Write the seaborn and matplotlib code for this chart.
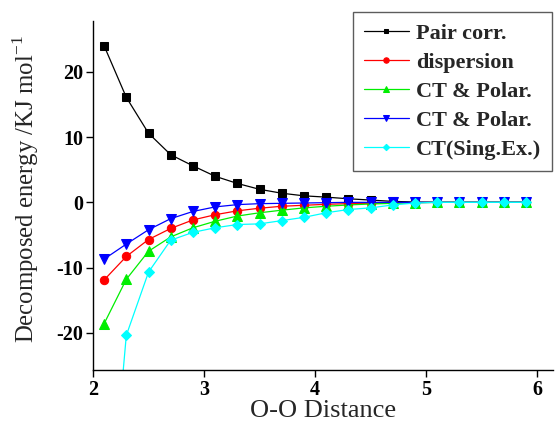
import matplotlib
matplotlib.use("Agg")
import matplotlib.pyplot as plt
import seaborn as sns

# O-O separation (Angstrom)
distance = [2.1, 2.3, 2.5, 2.7, 2.9, 3.1, 3.3, 3.5, 3.7, 3.9, 4.1, 4.3, 4.5,
            4.7, 4.9, 5.1, 5.3, 5.5, 5.7, 5.9]

# decomposed energy terms (kJ/mol)
pair_corr = [24.0, 16.1, 10.6, 7.3, 5.6, 4.0, 2.9, 2.0, 1.4, 1.0, 0.8, 0.55,
             0.35, 0.15, 0.05, 0.0, 0.0, 0.0, 0.0, 0.0]
dispersion = [-11.9, -8.3, -5.7, -4.0, -2.7, -1.9, -1.3, -0.9, -0.6, -0.45,
              -0.3, -0.2, -0.15, -0.1, -0.05, 0.0, 0.0, 0.0, 0.0, 0.0]
ct_polar_a = [-18.6, -11.8, -7.5, -5.3, -3.9, -2.9, -2.1, -1.6, -1.2, -0.85,
              -0.6, -0.4, -0.25, -0.15, -0.05, 0.0, 0.0, 0.0, 0.0, 0.0]
ct_polar_b = [-8.7, -6.4, -4.2, -2.5, -1.4, -0.7, -0.35, -0.2, -0.15, -0.1,
              -0.05, 0.0, 0.0, 0.0, 0.0, 0.0, 0.0, 0.0, 0.0, 0.0]
ct_sing_ex = [-59.0, -20.4, -10.7, -5.8, -4.6, -3.9, -3.4, -3.3, -2.8, -2.3,
              -1.6, -1.1, -0.85, -0.4, -0.1, 0.0, 0.0, 0.0, 0.0, 0.0]

series = [
    ("Pair corr.", pair_corr, "black", "s", 5.5),
    ("dispersion", dispersion, "red", "o", 6.0),
    ("CT & Polar.", ct_polar_a, "#00ee00", "^", 6.5),
    ("CT & Polar.", ct_polar_b, "blue", "v", 6.5),
    ("CT(Sing.Ex.)", ct_sing_ex, "cyan", "D", 5.0),
]

sns.set_theme(style="ticks")
plt.rcParams["font.family"] = ["Liberation Serif", "DejaVu Serif"]
plt.rcParams["mathtext.fontset"] = "custom"
plt.rcParams["mathtext.rm"] = "Liberation Serif"
plt.rcParams["axes.unicode_minus"] = False

fig = plt.figure(figsize=(5.55, 4.25), dpi=100)
ax = fig.add_axes([93 / 555, 1 - 370 / 425, 460 / 555, 349 / 425])

for name, vals, col, mk, ms in series:
    sns.lineplot(x=distance, y=vals, ax=ax, color=col, marker=mk,
                 markersize=ms, markeredgecolor=col, linewidth=0.9,
                 label=name)

ax.set_xlim(2, 2 + 460 / 111)
ax.set_ylim(-25.7, 27.8)
ax.set_xticks([2, 3, 4, 5, 6])
ax.set_yticks([-20, -10, 0, 10, 20])
ax.tick_params(direction="out", length=5, width=1, labelsize=14.5,
               colors="black", pad=2)
for lab in ax.get_xticklabels() + ax.get_yticklabels():
    lab.set_fontweight("bold")

for side in ("top", "right"):
    ax.spines[side].set_visible(False)
for side in ("left", "bottom"):
    ax.spines[side].set_color("black")
    ax.spines[side].set_linewidth(1.0)

ax.set_xlabel("O-O Distance", fontsize=19, labelpad=0)
ax.set_ylabel(r"Decomposed energy /KJ mol$^{\mathregular{-1}}$", fontsize=17.8)
ax.yaxis.set_label_coords(-0.113, 0.519)

leg = ax.legend(loc="upper right", bbox_to_anchor=(0.998, 1.026),
                borderaxespad=0, prop={"weight": "bold", "size": 16},
                frameon=True, fancybox=False, edgecolor="#333333",
                handlelength=2.0, labelspacing=0.38, borderpad=0.5,
                handletextpad=0.32, markerscale=0.65)
leg.get_frame().set_linewidth(1.0)

fig.savefig("out.png", dpi=100)
